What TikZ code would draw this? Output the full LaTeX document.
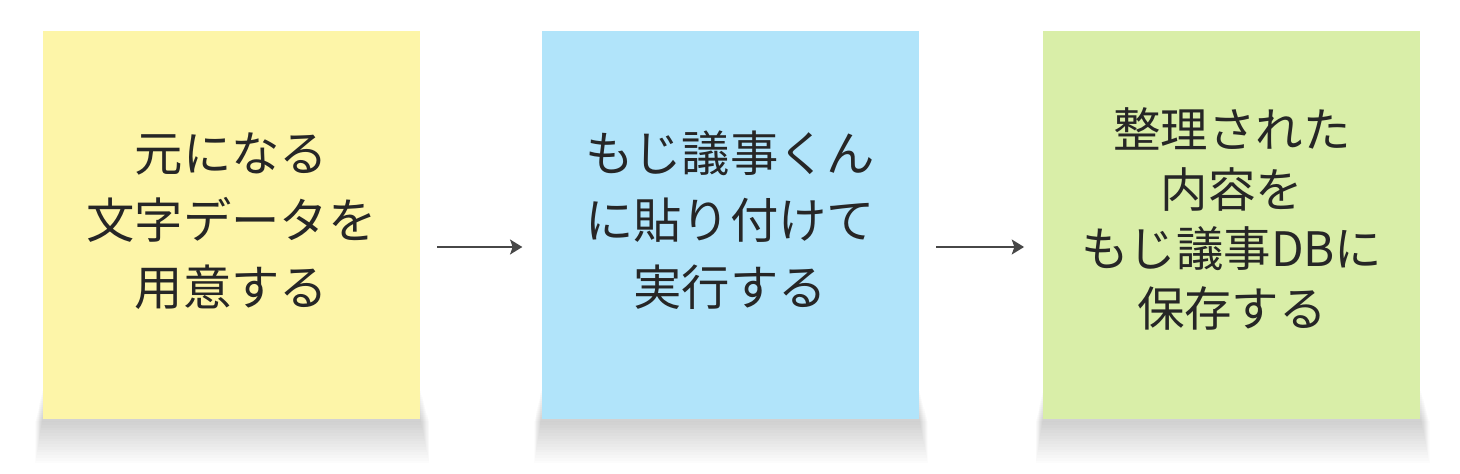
\documentclass[tikz,border=0pt]{standalone}
\usepackage{fontspec}
\newfontfamily\jpfont{Noto Sans CJK JP}
\usepackage{xcolor}
\usepackage{tikz}
\usetikzlibrary{backgrounds}
\usetikzlibrary{arrows.meta}
\usetikzlibrary{positioning}
\definecolor{noteyellow}{HTML}{FDF5A8}
\definecolor{noteblue}{HTML}{B1E4FA}
\definecolor{notegreen}{HTML}{D9EEA8}
\definecolor{inkgray}{HTML}{262626}
\tikzset{note/.style={minimum width=7.54cm, minimum height=7.76cm, inner sep=0pt, align=center, text=inkgray, font=\jpfont\fontsize{27.5}{38}\selectfont}}
\tikzset{flow/.style={draw=inkgray!85, line width=1.1pt, -{Stealth[length=7pt,width=8.5pt,inset=1.5pt]}, shorten <=0.34cm, shorten >=0.38cm}}
\tikzset{noteshadow/.style={fill=black, opacity=0.011}}

\begin{document}
\begin{tikzpicture}
{
\useasboundingbox (0,0) rectangle (29.2,9.46);
\node[note, fill=noteyellow] (src) at (4.63,4.96) {\raisebox{0.14cm}{\begin{tabular}{@{}c@{}}元になる\\文字データを\\用意する\end{tabular}}};
\node[note, fill=noteblue, right=2.42cm of src] (run) {\raisebox{0.05cm}{\begin{tabular}{@{}c@{}}もじ議事くん\\に貼り付けて\\実行する\end{tabular}}};
\node[note, fill=notegreen, right=2.48cm of run, font=\jpfont\fontsize{27}{34}\selectfont] (db) {\raisebox{0.15cm}{\begin{tabular}{@{}c@{}}整理された\\内容を\\もじ議事DBに\\保存する\end{tabular}}};
%soft shadows under the notes
\begin{scope}[on background layer]
\foreach \n in {src,run,db}
  \foreach \k in {1,...,16}
    \fill[noteshadow] ([xshift=-0.009*\k cm, yshift=-0.055*\k cm]\n.south west) rectangle ([xshift=0.011*\k cm, yshift=0.6cm-0.04*\k cm]\n.south east);
\end{scope}
\draw[flow] ([yshift=-0.44cm]src.east) -- ([yshift=-0.44cm]run.west);
\draw[flow] ([yshift=-0.44cm]run.east) -- ([yshift=-0.44cm]db.west);
}
\end{tikzpicture}
\end{document}
